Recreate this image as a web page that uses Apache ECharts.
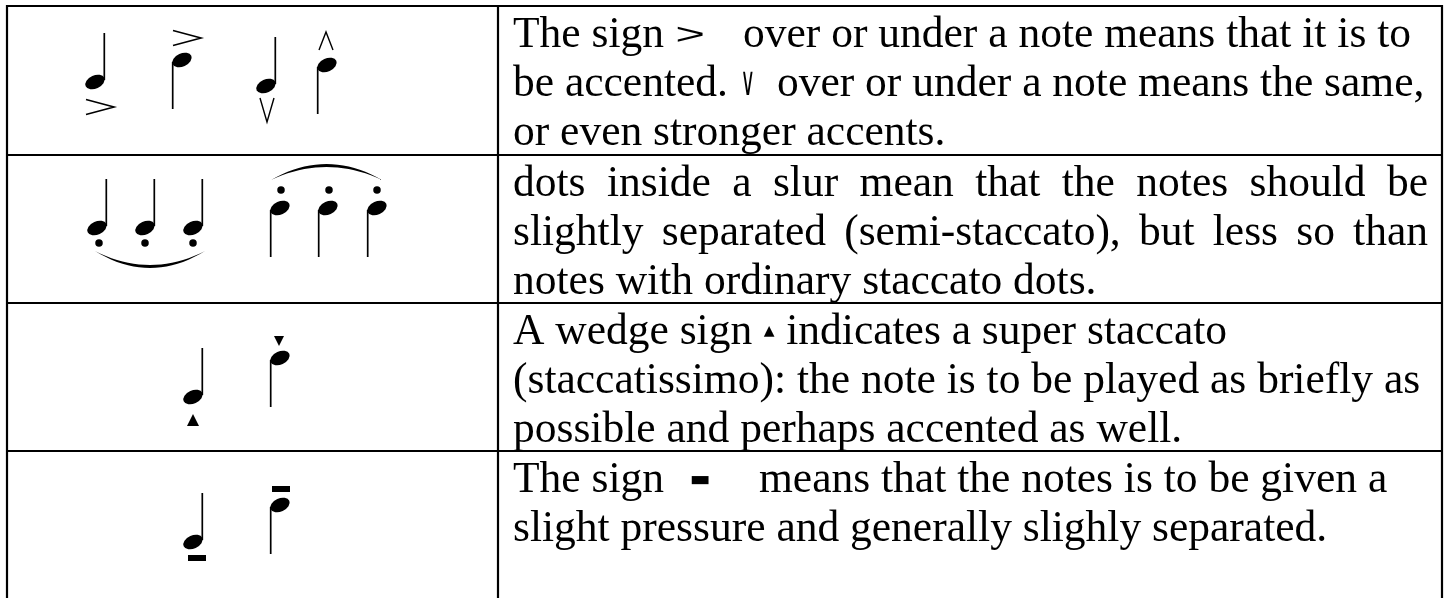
<!DOCTYPE html>
<html>
<head>
<meta charset="utf-8">
<script src="https://cdn.jsdelivr.net/npm/echarts@6/dist/echarts.min.js"></script>
<style>
  html, body { margin: 0; padding: 0; background: #fff; }
  #chart { width: 1453px; height: 598px; }
</style>
</head>
<body>
<div id="chart"></div>
<script>
const W = 1453;
const H = 598;
const INK = '#000';
const SERIF = '"Liberation Serif", "Times New Roman", serif';
const FONT_SIZE = 43.5;
const LINE_H = 49;
const FIRST_BASELINE = 39;   // from a row's top edge
const TEXT_INSET = 15;       // from the column divider
const JUSTIFY_RIGHT = 1428;

// table grid (hidden value axes map 1:1 onto the page)
const ROW_EDGES = [6, 155, 303, 451];
const COL_EDGES = [7, 498, 1442];
const TABLE_BOTTOM = 640;

// note heads: x, y of the centre, stem direction (1 = up, -1 = down)
const NOTES = [
    [95, 82, 1], [182, 60, -1], [266, 86, 1], [327, 65, -1],
    [97, 228, 1], [145, 228, 1], [193, 228, 1], [280, 208, -1], [328, 208, -1], [377, 208, -1],
    [193, 397, 1], [280, 358, -1],
    [193, 542, 1], [280, 505, -1],
];

// articulation marks
const ACCENTS = [[100, 107], [187, 38]];          // >
const MARCATO_DOWN = [[267, 110]];                // ∨
const MARCATO_UP = [[326, 41]];                   // ∧
const STACCATO = [[99, 243], [145, 243], [193, 243], [281, 190], [329, 190], [377, 190]];
const WEDGES_UP = [[193, 420]];
const WEDGES_DOWN = [[279, 341]];
const TENUTOS = [[197, 558], [281, 489]];
// slurs: x start, x end, y of the ends, bulge
const SLURS = [[95, 205, 251, 17], [271, 382, 180, -16]];

// text column: row, line, text, justified
const TEXT_LINES = [
    [0, 0, 'The sign{gt}over or under a note means that it is to', false],
    [0, 1, 'be accented.{vee}over or under a note means the same,', false],
    [0, 2, 'or even stronger accents.', false],
    [1, 0, 'dots inside a slur mean that the notes should be', true],
    [1, 1, 'slightly separated (semi-staccato), but less so than', true],
    [1, 2, 'notes with ordinary staccato dots.', false],
    [2, 0, 'A wedge sign{tri}indicates a super staccato', false],
    [2, 1, '(staccatissimo): the note is to be played as briefly as', false],
    [2, 2, 'possible and perhaps accented as well.', false],
    [3, 0, 'The sign{bar}means that the notes is to be given a', false],
    [3, 1, 'slight pressure and generally slighly separated.', false],
];

// inline sign glyphs: advance = room taken in the line, centre = glyph centre from segment start
const GLYPHS = {
    gt:  { text: '>', family: '"Liberation Sans"', size: 30, scaleX: 1.7, advance: 79, centre: 26, dy: 0 },
    vee: { text: '∨', family: '"DejaVu Sans"', size: 40, scaleX: 0.5, advance: 49, centre: 20, dy: 0 },
    tri: { text: '▲', family: '"DejaVu Sans"', size: 14, scaleX: 1, advance: 34, centre: 17, dy: -1 },
    bar: { text: '▬', family: '"DejaVu Sans"', size: 22, scaleX: 1, advance: 95, centre: 36, dy: 0 },
};

const HEAD_RX = 10.2;
const HEAD_RY = 6.6;
const HEAD_TILT = 0.42;
const STEM_LEN = 49;

const measureCtx = document.createElement('canvas').getContext('2d');
measureCtx.font = FONT_SIZE + 'px ' + SERIF;
const textWidth = s => measureCtx.measureText(s).width;

function textEl(text, x, y) {
    return {
        type: 'text', x, y,
        style: { text, fill: INK, fontFamily: SERIF, fontSize: FONT_SIZE, verticalAlign: 'middle', align: 'left' },
    };
}

function renderTextLine(params, api) {
    const [, , str, justify] = TEXT_LINES[params.dataIndex];
    const [x0, base] = api.coord([api.value(0), api.value(1)]);
    const yMid = base - 0.22 * FONT_SIZE;
    const children = [];
    if (justify) {
        const words = str.split(' ');
        const used = words.reduce((s, w) => s + textWidth(w), 0);
        const gap = (JUSTIFY_RIGHT - x0 - used) / (words.length - 1);
        let x = x0;
        words.forEach(w => {
            children.push(textEl(w, x, yMid));
            x += textWidth(w) + gap;
        });
        return { type: 'group', children };
    }
    const parts = str.split(/\{(\w+)\}/);
    let x = x0;
    parts.forEach((p, i) => {
        if (i % 2) {
            const g = GLYPHS[p];
            children.push({
                type: 'text', x: x + g.centre, y: yMid + g.dy, scaleX: g.scaleX,
                style: { text: g.text, fill: INK, fontFamily: g.family, fontSize: g.size, align: 'center', verticalAlign: 'middle' },
            });
            x += g.advance;
        } else if (p) {
            children.push(textEl(p, x, yMid));
            x += textWidth(p);
        }
    });
    return { type: 'group', children };
}

function renderNote(params, api) {
    const [cx, cy] = api.coord([api.value(0), api.value(1)]);
    const dir = api.value(2);
    const sx = cx + dir * (HEAD_RX - 0.9);
    return {
        type: 'group',
        children: [
            { type: 'circle', x: cx, y: cy, rotation: HEAD_TILT, scaleX: HEAD_RX / HEAD_RY, shape: { cx: 0, cy: 0, r: HEAD_RY }, style: { fill: INK } },
            { type: 'line', shape: { x1: sx, y1: cy - dir * 2, x2: sx, y2: cy - dir * STEM_LEN }, style: { stroke: INK, lineWidth: 1.7 } },
        ],
    };
}

function strokeMark(pointsFn, width = 1.6) {
    return (params, api) => {
        const [cx, cy] = api.coord([api.value(0), api.value(1)]);
        return { type: 'polyline', shape: { points: pointsFn(cx, cy) }, style: { stroke: INK, fill: null, lineWidth: width } };
    };
}

function renderSlur(params, api) {
    const [xa, y] = api.coord([api.value(0), api.value(2)]);
    const [xb] = api.coord([api.value(1), api.value(2)]);
    const bulge = api.value(3);
    const thick = bulge > 0 ? -3 : 3;
    const curve = (b, from, to, step) => {
        const pts = [];
        const cY = y + 2 * b;
        for (let t = from; step > 0 ? t <= to + 1e-9 : t >= to - 1e-9; t += step) {
            const u = 1 - t;
            pts.push([u * u * xa + 2 * u * t * ((xa + xb) / 2) + t * t * xb, u * u * y + 2 * u * t * cY + t * t * y]);
        }
        return pts;
    };
    const points = curve(bulge, 0, 1, 0.05).concat(curve(bulge + thick, 1, 0, -0.05));
    return { type: 'polygon', shape: { points }, style: { fill: INK } };
}

function renderHLine(params, api) {
    const [x1, y] = api.coord([COL_EDGES[0], api.value(0)]);
    const [x2] = api.coord([COL_EDGES[2], api.value(0)]);
    return { type: 'line', shape: { x1: x1 - 1, y1: y, x2: x2 + 1, y2: y }, style: { stroke: INK, lineWidth: 2.2 } };
}

function renderVLine(params, api) {
    const [x, y1] = api.coord([api.value(0), ROW_EDGES[0]]);
    const [, y2] = api.coord([api.value(0), TABLE_BOTTOM]);
    return { type: 'line', shape: { x1: x, y1: y1 - 1, x2: x, y2 }, style: { stroke: INK, lineWidth: 2.2 } };
}

const chart = echarts.init(document.getElementById('chart'), null, { renderer: 'canvas' });

const custom = (name, data, renderItem) => ({ type: 'custom', name, data, renderItem, clip: false, silent: true });
const scatter = (name, data, symbol, size, rotate = 0) => ({
    type: 'scatter', name, data, symbol, symbolSize: size, symbolRotate: rotate, silent: true,
    itemStyle: { color: INK, opacity: 1 },
});

chart.setOption({
    animation: false,
    backgroundColor: '#fff',
    grid: { left: 0, right: 0, top: 0, bottom: 0 },
    xAxis: { type: 'value', min: 0, max: W, show: false },
    yAxis: { type: 'value', min: 0, max: H, inverse: true, show: false },
    series: [
        custom('rows', ROW_EDGES.map(y => [y]), renderHLine),
        custom('columns', COL_EDGES.map(x => [x]), renderVLine),
        custom('text', TEXT_LINES.map(([row, line]) => [COL_EDGES[1] + TEXT_INSET, ROW_EDGES[row] + FIRST_BASELINE + line * LINE_H]), renderTextLine),
        custom('notes', NOTES, renderNote),
        custom('accents', ACCENTS, strokeMark((x, y) => [[x - 14, y - 7.5], [x + 14, y], [x - 14, y + 7.5]])),
        custom('marcato down', MARCATO_DOWN, strokeMark((x, y) => [[x - 7, y - 12], [x, y + 12], [x + 7, y - 12]], 1.4)),
        custom('marcato up', MARCATO_UP, strokeMark((x, y) => [[x - 7, y + 9], [x, y - 9], [x + 7, y + 9]], 1.4)),
        custom('slurs', SLURS, renderSlur),
        scatter('staccato', STACCATO, 'circle', 7.5),
        scatter('wedge up', WEDGES_UP, 'triangle', [12, 12]),
        scatter('wedge down', WEDGES_DOWN, 'triangle', [10, 10], 180),
        scatter('tenuto', TENUTOS, 'rect', [18, 6]),
    ],
});

window.addEventListener('resize', () => chart.resize());
</script>
</body>
</html>
